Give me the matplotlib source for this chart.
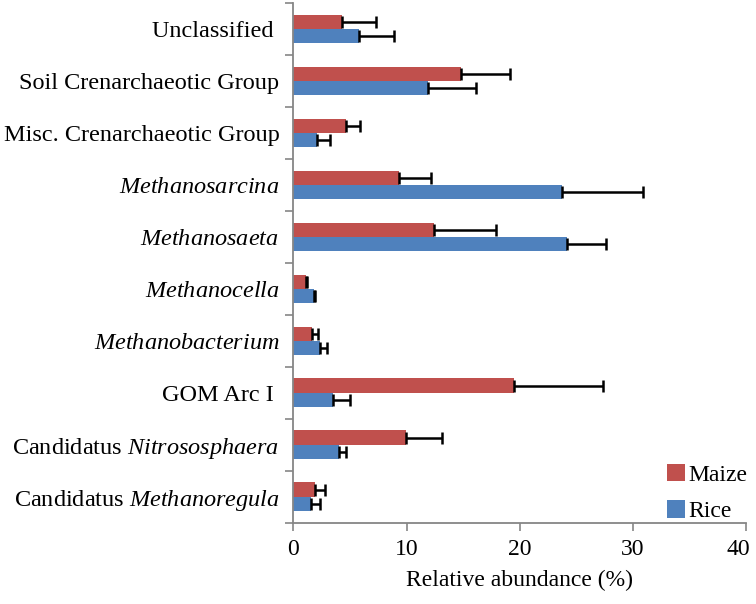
import matplotlib
matplotlib.use("Agg")
import matplotlib.pyplot as plt
import matplotlib.transforms as mtransforms
import numpy as np

plt.rcParams['font.family'] = ['Liberation Serif', 'DejaVu Serif']
plt.rcParams['mathtext.fontset'] = 'custom'
plt.rcParams['mathtext.rm'] = 'Liberation Serif'
plt.rcParams['mathtext.it'] = 'Liberation Serif:italic'

categories = [
    "Unclassified ",
    "Soil Crenarchaeotic Group",
    "Misc. Crenarchaeotic Group",
    "$\\mathit{Methanosarcina}$",
    "$\\mathit{Methanosaeta}$ ",
    "$\\mathit{Methanocella}$",
    "$\\mathit{Methanobacterium}$",
    "GOM Arc I ",
    "Candidatus $\\mathit{Nitrososphaera}$",
    "Candidatus $\\mathit{Methanoregula}$",
]
maize = [4.27, 14.83, 4.68, 9.3, 12.39, 1.15, 1.68, 19.45, 9.97, 1.94]
maize_err = [3.06, 4.27, 1.18, 2.9, 5.5, 0.1, 0.5, 7.9, 3.2, 0.9]
rice = [5.77, 11.86, 2.06, 23.77, 24.15, 1.83, 2.36, 3.47, 4.0, 1.56]
rice_err = [3.09, 4.27, 1.2, 7.09, 3.45, 0.1, 0.65, 1.55, 0.65, 0.8]
xticks = [0, 10, 20, 30, 40]

fig = plt.figure(figsize=(7.56, 6.04), dpi=100)
ax = fig.add_axes([0.388, 0.1346, 0.599, 0.8604])

n = len(categories)
y = np.arange(n)
h = 0.275
err_kw = dict(ecolor='black', capsize=4, elinewidth=1.8, capthick=1.8)
ax.barh(y - h / 2, maize, height=h, color='#C0504D', xerr=[np.zeros(n), maize_err],
        error_kw=err_kw, label='Maize')
ax.barh(y + h / 2, rice, height=h, color='#4F81BD', xerr=[np.zeros(n), rice_err],
        error_kw=err_kw, label='Rice')

ax.set_ylim(n - 0.5, -0.5)
ax.set_xlim(0, 40)
ax.set_xticks(xticks)
ax.set_yticks(y)
ax.set_yticklabels(categories, fontsize=17.5)
ax.set_yticks(np.arange(-0.5, n, 1), minor=True)
ax.tick_params(axis='y', which='major', length=0, pad=10)
ax.tick_params(axis='y', which='minor', length=6, direction='out', color='#868686', width=1.2)
ax.tick_params(axis='x', which='major', length=6, direction='out', color='#868686', width=1.2,
               labelsize=17, pad=6)
for s in ['top', 'right']:
    ax.spines[s].set_visible(False)
for s in ['left', 'bottom']:
    ax.spines[s].set_color('#868686')
    ax.spines[s].set_linewidth(1.3)
ax.set_xlabel('Relative abundance (%)', fontsize=17, labelpad=7)

# shift last x tick label left so it fits inside the figure
last = ax.get_xticklabels()[-1]
last.set_transform(last.get_transform() +
                   mtransforms.ScaledTranslation(-8 / 100, 0, fig.dpi_scale_trans))

leg = ax.legend(loc='lower right', fontsize=17, frameon=False, handlelength=0.75,
                handleheight=0.75, handletextpad=0.15, labelspacing=0.62,
                bbox_to_anchor=(1.05, -0.04))

fig.savefig('out.png', dpi=100)
